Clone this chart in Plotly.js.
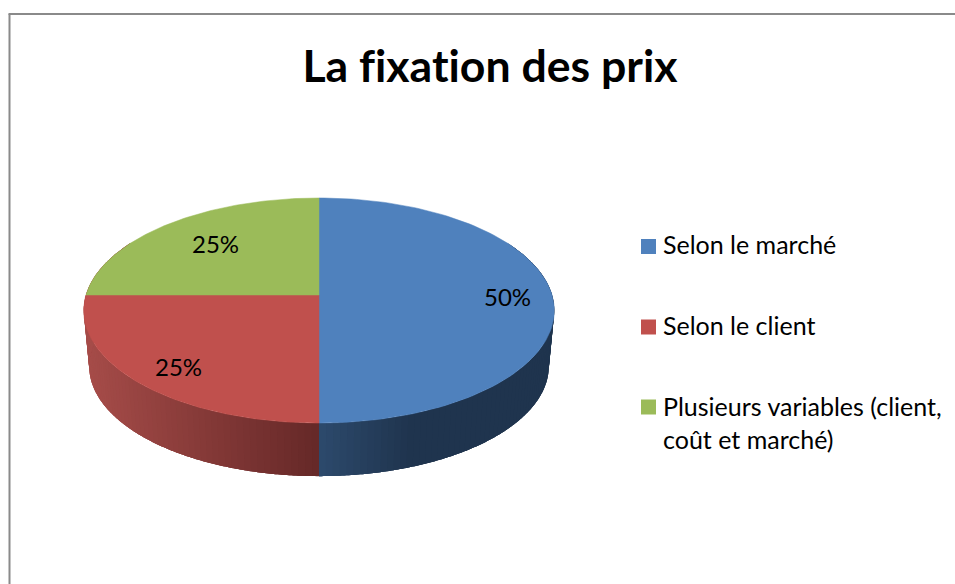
<!DOCTYPE html>
<html>
<head>
<meta charset="utf-8">
<script src="https://cdn.plot.ly/plotly-3.0.1.min.js"></script>
<style>html,body{margin:0;padding:0;background:#fff;overflow:hidden}#chart{width:955px;height:584px}
svg text{font-variant-ligatures:none !important;font-feature-settings:"liga" 0,"clig" 0,"dlig" 0 !important;text-rendering:optimizeSpeed}</style>
</head>
<body>
<div id="chart"></div>
<script>
const chartTitle = "La fixation des prix";
const categories = ["Selon le marché", "Selon le client", "Plusieurs variables (client,<br>coût et marché)"];
const values = [50, 25, 25];
const colors = ["#4F81BD", "#C0504D", "#9BBB59"];
const FONT = "Lato, Carlito, Calibri, sans-serif";

// perspective disc: fraction of the circle -> chart position
const top_ = {cx: 319, cy: 295, a: 110.4, b: 233, p: 0.1378};
const bot_ = {cx: 319, cy: 351, a: 107.9, b: 227.6, p: 0.1378};
function proj(d, deg) {
  const t = deg * Math.PI / 180, u = Math.sin(t), v = Math.cos(t), w = 1 + d.p * v;
  return [d.cx + d.b * u / w, d.cy - d.a * v / w];
}
const total = values.reduce((s, v) => s + v, 0);
function hex(c) { return [1, 3, 5].map(i => parseInt(c.substr(i, 2), 16)); }
function mix(a, b, f) {
  f = Math.max(0, Math.min(1, f));
  const A = hex(a), B = hex(b);
  return "rgb(" + A.map((x, i) => Math.round(x + (B[i] - x) * f)).join(",") + ")";
}
const traces = [];
function strip(from, to, colorAt, step) {
  for (let d = from; d < to - 1e-6; d += step) {
    const e = Math.min(d + step * 3, to);      // each strip runs under the next one, so no seams
    const xs = [], ys = [];
    for (let g = d; g <= e + 1e-6; g += 0.5) { const p = proj(top_, g); xs.push(p[0]); ys.push(p[1]); }
    for (let g = e; g >= d - 1e-6; g -= 0.5) { const p = proj(bot_, g); xs.push(p[0]); ys.push(p[1]); }
    xs.push(xs[0]); ys.push(ys[0]);
    const col = colorAt((proj(top_, d)[0] + proj(top_, d + step)[0]) / 2);
    traces.push({type: "scatter", mode: "none", x: xs, y: ys,
      fill: "toself", fillcolor: col, showlegend: false, hoverinfo: "skip"});
  }
}
// side wall of the disc
strip(60, 180, x => mix("#2C4A6C", "#1F344E", (x - 319) / 92), 1.5);
strip(180, 300, x => mix("#652827", "#A64C49", (319 - x) / 234), 1.5);

// top face slices
let cum = 0;
values.forEach((val, i) => {
  const s = cum / total * 360, e = (cum + val) / total * 360;
  const xs = [top_.cx], ys = [top_.cy];
  for (let k = 0; k <= 120; k++) {
    const p = proj(top_, s + (e - s) * k / 120);
    xs.push(p[0]); ys.push(p[1]);
  }
  xs.push(top_.cx); ys.push(top_.cy);
  traces.push({type: "scatter", mode: "lines", name: categories[i], x: xs, y: ys, fill: "toself",
    fillcolor: colors[i], line: {color: colors[i], width: 0.5}, showlegend: false, hoverinfo: "name"});
  cum += val;
});

// legend swatches
const legendX = [648.5, 648.5, 648.5];
const legendY = [246.5, 327, 407];
traces.push({type: "scatter", mode: "markers", x: legendX, y: legendY, showlegend: false, hoverinfo: "skip",
  marker: {symbol: "square", size: 15, color: colors, line: {width: 0}}});

const labelPos = [[507, 296], [178, 366], [215, 243]];
const annotations = values.map((v, i) => ({
  xref: "x", yref: "y", x: labelPos[i][0], y: labelPos[i][1], showarrow: false,
  text: Math.round(v / total * 100) + "%", font: {family: FONT, size: 24, color: "#000"}
}));
const legendTextY = [244, 325, 422];
categories.forEach((c, i) => annotations.push({
  xref: "x", yref: "y", x: 660.5, y: legendTextY[i], xanchor: "left", yanchor: "middle", align: "left",
  showarrow: false, text: c, font: {family: FONT, size: 25, color: "#000"}
}));

const layout = {
  width: 955, height: 584, margin: {l: 0, r: 0, t: 0, b: 0, pad: 0},
  paper_bgcolor: "#fff", plot_bgcolor: "#fff", showlegend: false, hovermode: "closest",
  title: {text: "<b>" + chartTitle + "</b>", x: 490 / 955, xref: "paper", xanchor: "center", y: 1 - 66 / 584, yref: "paper", yanchor: "middle",
    font: {family: FONT, size: 44.6, color: "#000"}},
  xaxis: {range: [0, 955], visible: false, fixedrange: true},
  yaxis: {range: [584, 0], visible: false, fixedrange: true},
  shapes: [
    {type: "line", xref: "x", yref: "y", x0: 9.5, y0: 584, x1: 9.5, y1: 14, line: {color: "#8A8A8A", width: 2}},
    {type: "line", xref: "x", yref: "y", x0: 8.5, y0: 14, x1: 955, y1: 14, line: {color: "#8A8A8A", width: 2}}
  ],
  annotations: annotations
};
Plotly.newPlot("chart", traces, layout, {displayModeBar: false});
</script>
</body>
</html>
